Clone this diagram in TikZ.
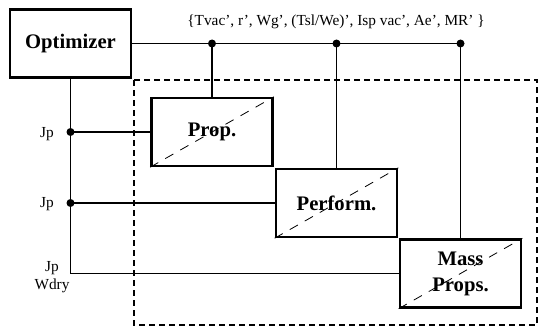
\documentclass[tikz,border=0pt]{standalone}
\usepackage{fontspec}
\setmainfont{Liberation Serif}
\usetikzlibrary{positioning,calc}

\begin{document}
\begin{tikzpicture}[x=0.75pt, y=-0.75pt,
  block/.style={draw=black, line width=1.8pt, fill=white, align=center,
    minimum width=91pt, minimum height=51pt, inner sep=0pt,
    font=\fontsize{15.5}{19.5}\selectfont\bfseries},
  link/.style={line width=1.4pt},
  diag/.style={line width=0.6pt, dash pattern=on 7pt off 6pt},
  frame/.style={line width=1.6pt, dash pattern=on 4.5pt off 3pt},
  dot/.style={circle, fill=black, inner sep=0pt, minimum size=6pt},
  lbl/.style={font=\fontsize{11.5}{13}\selectfont, align=center, inner sep=0pt}
]
  \useasboundingbox (0,0) rectangle (538,328);

  % analysis group
  \draw[frame] (134,80) rectangle (537,325);

  \node[block] (opt)     at (70.5,43.5)  {Optimizer};
  \node[block] (prop)    at (212,132)    {Prop.};
  \node[block] (perform) at (336.5,203)  {Perform.};
  \node[block] (mass)    at (460.5,273.5) {Mass\\Props.};

  \foreach \b in {prop,perform,mass}
    \draw[diag] (\b.south west) -- (\b.north east);

  % design variables
  \node[lbl] (vars) at (336,22) {\{Tvac', r', Wg', (Tsl/We)', Isp vac', Ae', MR' \}};
  \coordinate (busend) at (mass.north |- opt.east);
  \draw[link] (opt.east) -- (busend);
  \foreach \b in {prop,perform,mass} {
    \draw[link] (\b.north |- opt.east) -- (\b.north);
    \node[dot] at (\b.north |- opt.east) {};
  }

  % outputs
  \coordinate (corner) at (opt.south |- mass.west);
  \draw[link] (opt.south) -- (corner) -- (mass.west);
  \draw[link] (opt.south |- prop.west) -- (prop.west);
  \draw[link] (opt.south |- perform.west) -- (perform.west);
  \node[dot] (jp1) at (opt.south |- prop.west) {};
  \node[dot] (jp2) at (opt.south |- perform.west) {};

  \node[lbl] (l1) at (47,134) {Jp};
  \node[lbl] (l2) at (47,204) {Jp};
  \node[lbl] (l3) at (52,277) {Jp\\Wdry};
\end{tikzpicture}
\end{document}
